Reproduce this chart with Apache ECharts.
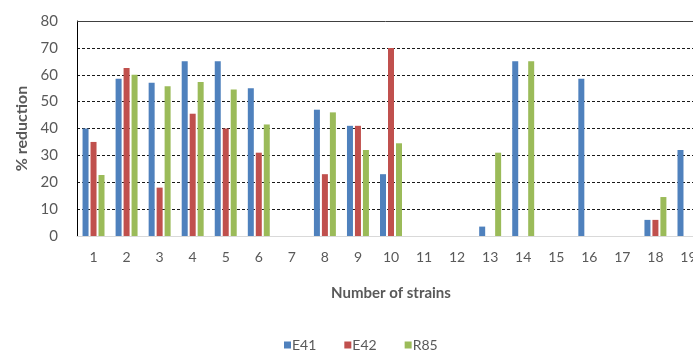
<!DOCTYPE html>
<html>
<head>
<meta charset="utf-8">
<script src="https://cdn.jsdelivr.net/npm/echarts@6/dist/echarts.min.js"></script>
<style>
  html, body { margin: 0; padding: 0; background: #fff; }
  #chart { width: 693px; height: 351px; }
</style>
</head>
<body>
<div id="chart"></div>
<script>
// Strain numbers along the x axis
const strains = ['1','2','3','4','5','6','7','8','9','10','11','12','13','14','15','16','17','18','19'];

// % reduction per strain for each isolate (null = no bar)
const e41 = [40, 58.5, 57, 65, 65, 55, null, 47, 41, 23, null, null, 3.5, 65, null, 58.5, null, 6, 32];
const e42 = [35, 62.5, 18, 45.5, 40, 31, null, 23, 41, 70, null, null, null, null, null, null, null, 6, null];
const r85 = [22.7, 60, 55.7, 57.3, 54.5, 41.5, null, 46, 32, 34.5, null, null, 31, 65, null, null, null, 14.5, null];

const seriesNames = ['E41', 'E42', 'R85'];
const seriesColors = ['#4f81bd', '#c0504d', '#9bbb59'];
const seriesData = [e41, e42, r85];

const textGray = '#595959';
const fontFamily = 'Lato, "Open Sans", sans-serif';

const chart = echarts.init(document.getElementById('chart'), null, { renderer: 'canvas' });

const series = seriesNames.map((name, i) => {
  const s = {
    name: name,
    type: 'bar',
    data: seriesData[i],
    barWidth: 6,
    barGap: '33%',
    itemStyle: { color: seriesColors[i] },
    emphasis: { disabled: true },
    z: 3
  };
  if (i === 0) {
    // solid rule along the top of the plot
    s.markLine = {
      silent: true,
      symbol: 'none',
      label: { show: false },
      lineStyle: { color: '#404040', type: 'solid', width: 1 },
      data: [{ yAxis: 80 }],
      z: 4
    };
  }
  return s;
});

chart.setOption({
  animation: false,
  backgroundColor: '#ffffff',
  textStyle: { fontFamily: fontFamily },
  // the plot runs past the right edge of the canvas, so the last strain is cut off
  grid: { left: 77, top: 21, width: 628, height: 215, containLabel: false, outerBoundsMode: 'none' },
  legend: {
    data: seriesNames,
    left: 279,
    top: 333,
    itemWidth: 7,
    itemHeight: 7,
    itemGap: 28,
    icon: 'rect',
    textStyle: { color: textGray, fontSize: 14, fontFamily: fontFamily, padding: [0, 0, 0, -4] }
  },
  xAxis: {
    type: 'category',
    data: strains,
    name: 'Number of strains',
    nameLocation: 'middle',
    nameGap: 50,
    nameTextStyle: { color: textGray, fontSize: 15, fontWeight: 'bold', fontFamily: fontFamily },
    axisLine: { show: true, lineStyle: { color: '#d9d9d9', width: 1 } },
    axisTick: { show: false },
    axisLabel: { color: textGray, fontSize: 14, margin: 14, interval: 0, fontFamily: fontFamily },
    splitLine: { show: false }
  },
  yAxis: {
    type: 'value',
    min: 0,
    max: 80,
    interval: 10,
    name: '% reduction',
    nameLocation: 'middle',
    nameGap: 46,
    nameTextStyle: { color: textGray, fontSize: 16, fontWeight: 'bold', fontFamily: fontFamily },
    axisLine: { show: true, lineStyle: { color: '#000000', width: 1 } },
    axisTick: { show: false },
    axisLabel: { color: textGray, fontSize: 15, margin: 19, fontFamily: fontFamily },
    splitLine: { show: true, lineStyle: { color: '#1a1a1a', type: [3, 2], width: 1 } }
  },
  series: series
});
</script>
</body>
</html>
